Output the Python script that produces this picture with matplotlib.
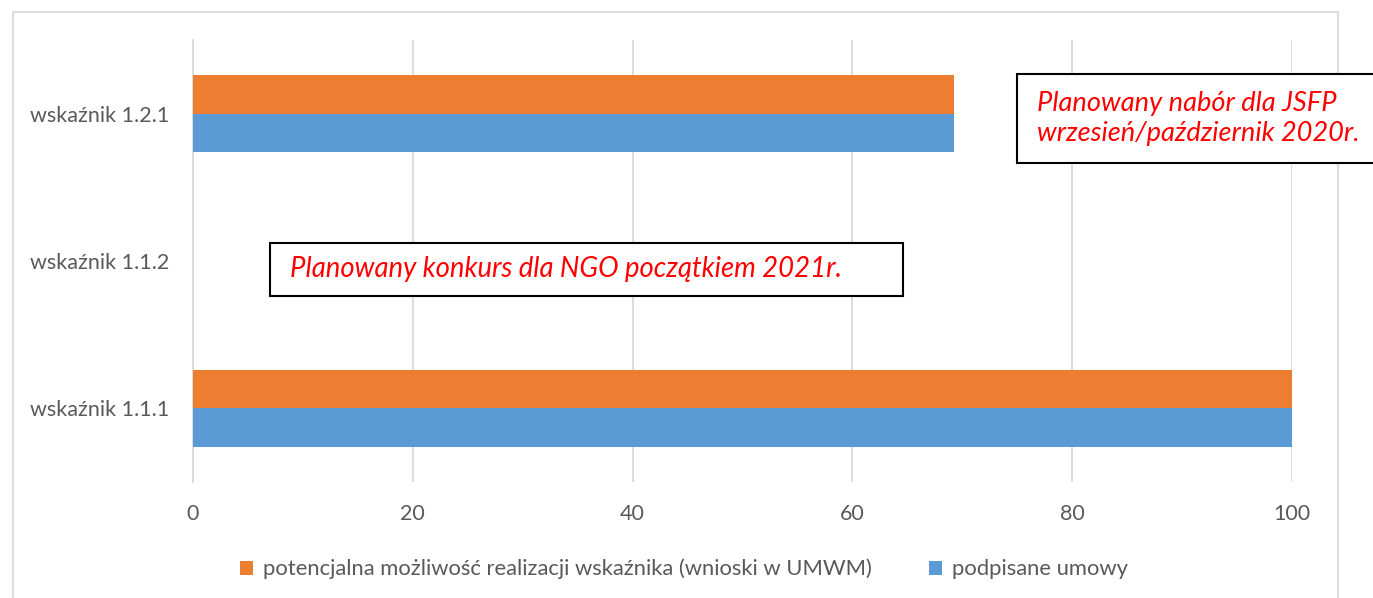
import numpy as np
import matplotlib.pyplot as plt
from matplotlib.patches import Rectangle

# dane
kategorie = ["wskaźnik 1.1.1", "wskaźnik 1.1.2", "wskaźnik 1.2.1"]
podpisane = [100, 0, 69.2]
potencjalna = [100, 0, 69.2]
etykieta_pot = "potencjalna możliwość realizacji wskaźnika (wnioski w UMWM)"
etykieta_podp = "podpisane umowy"

plt.rcParams['font.family'] = ['Lato', 'DejaVu Sans']

fig = plt.figure(figsize=(13.73, 5.98), dpi=100)
ax = fig.add_axes([193/1373, 1 - 482/598, (1292-193)/1373, (482-40)/598])

y = np.arange(len(kategorie))
h = 0.26
kol_pom = "#ED7D31"
kol_nieb = "#5B9BD5"
ax.barh(y - h/2, podpisane, height=h, color=kol_nieb, label=etykieta_podp, zorder=3)
ax.barh(y + h/2, potencjalna, height=h, color=kol_pom, label=etykieta_pot, zorder=3)

ax.set_xlim(0, 100)
ax.set_ylim(-0.5, len(kategorie) - 0.5)
ax.set_xticks(range(0, 101, 20))
ax.set_yticks(y)
ax.set_yticklabels(kategorie)
ax.grid(axis='x', color="#d9d9d9", linewidth=1.3, zorder=0)
for s in ['top', 'right', 'bottom']:
    ax.spines[s].set_visible(False)
ax.spines['left'].set_color("#d9d9d9")
ax.spines['left'].set_linewidth(1.3)
ax.tick_params(axis='both', length=0, labelsize=15.5, colors="#595959")
ax.tick_params(axis='x', pad=16)
ax.tick_params(axis='y', pad=17)

# legenda
uchwyty, etykiety = ax.get_legend_handles_labels()
fig.legend(uchwyty[::-1], etykiety[::-1], loc='center', bbox_to_anchor=(0.498, 1 - 569/598),
           ncol=2, frameon=False, fontsize=15.8, labelcolor="#595959",
           handlelength=0.6, handleheight=0.6, handletextpad=0.45, columnspacing=2.6)

# ramka wykresu
fig.patches.append(Rectangle((13/1373, -0.05), (1338-13)/1373, 1.05 - 12/598,
                             transform=fig.transFigure, fill=False,
                             edgecolor="#d9d9d9", linewidth=1.3, zorder=0))

# pola tekstowe
def pole(x0, y0, x1, y1, tekst, rozm):
    fig.patches.append(Rectangle((x0/1373, 1 - y1/598), (x1-x0)/1373, (y1-y0)/598,
                                 transform=fig.transFigure, facecolor='white',
                                 edgecolor='black', linewidth=1.5, zorder=5))
    fig.text((x0 + 20)/1373, 1 - (y0 + y1)/2/598, tekst, color='red', style='italic',
             fontsize=rozm, va='center', ha='left', linespacing=1.25, zorder=6)

pole(1017, 74, 1380, 163, "Planowany nabór dla JSFP\nwrzesień/październik 2020r.", 19.6)
pole(270, 243, 903, 296, "Planowany konkurs dla NGO początkiem 2021r.", 19.8)

fig.savefig("out.png", dpi=100)
